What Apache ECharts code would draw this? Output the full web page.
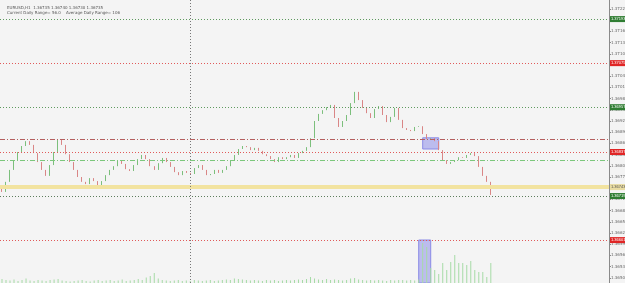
<!DOCTYPE html>
<html>
<head>
<meta charset="utf-8">
<script src="https://cdn.jsdelivr.net/npm/echarts@6/dist/echarts.min.js"></script>
<style>
  html, body { margin: 0; padding: 0; background: #f4f4f4; }
  #chart { width: 625px; height: 283px; }
</style>
</head>
<body>
<div id="chart"></div>
<script>
// EURUSD H1 closes, one per bar
const closes = [
  1.36730, 1.36757, 1.36789, 1.36815, 1.36837, 1.36853, 1.36866, 1.36856, 1.36834, 1.36810,
  1.36789, 1.36773, 1.36802, 1.36837, 1.36869, 1.36856, 1.36831, 1.36810, 1.36789, 1.36770,
  1.36757, 1.36751, 1.36767, 1.36759, 1.36743, 1.36759, 1.36775, 1.36789, 1.36799, 1.36813,
  1.36805, 1.36791, 1.36786, 1.36802, 1.36818, 1.36829, 1.36818, 1.36799, 1.36789, 1.36807,
  1.36821, 1.36810, 1.36797, 1.36783, 1.36775, 1.36786, 1.36781, 1.36778, 1.36794, 1.36802,
  1.36789, 1.36775, 1.36778, 1.36789, 1.36781, 1.36789, 1.36799, 1.36813, 1.36829, 1.36845,
  1.36853, 1.36850, 1.36842, 1.36848, 1.36840, 1.36831, 1.36826, 1.36818, 1.36810, 1.36823,
  1.36818, 1.36823, 1.36829, 1.36821, 1.36834, 1.36840, 1.36850, 1.36874, 1.36920, 1.36939,
  1.36949, 1.36957, 1.36963, 1.36928, 1.36904, 1.36920, 1.36936, 1.36968, 1.36998, 1.36976,
  1.36955, 1.36941, 1.36928, 1.36952, 1.36960, 1.36936, 1.36917, 1.36931, 1.36955, 1.36923,
  1.36901, 1.36896, 1.36893, 1.36904, 1.36906, 1.36885, 1.36872, 1.36874, 1.36866, 1.36842,
  1.36815, 1.36805, 1.36810, 1.36815, 1.36823, 1.36821, 1.36829, 1.36834, 1.36826, 1.36797,
  1.36773, 1.36757, 1.36722
];

// tick volume per bar
const volumes = [
  40, 30, 25, 35, 20, 30, 45, 25, 20, 30,
  25, 20, 30, 35, 40, 25, 20, 15, 20, 25,
  30, 20, 15, 25, 30, 20, 25, 30, 20, 25,
  35, 20, 25, 30, 40, 30, 55, 70, 100, 45,
  30, 25, 20, 25, 30, 20, 25, 20, 30, 25,
  20, 25, 30, 20, 25, 30, 35, 30, 45, 40,
  35, 30, 25, 30, 25, 20, 30, 25, 30, 20,
  25, 30, 25, 30, 35, 30, 40, 60, 45, 35,
  30, 40, 30, 35, 30, 25, 30, 45, 50, 35,
  30, 25, 30, 25, 30, 25, 20, 30, 25, 30,
  30, 25, 30, 25, 35, 400, 360, 150, 130, 90,
  200, 130, 210, 280, 200, 200, 180, 220, 130, 110,
  110, 60, 200
];

const totalBars = 152;
const categories = [];
for (let i = 0; i < totalBars; i++) categories.push(String(i));

// horizontal levels drawn by the indicator
const levelPrices = [1.37193, 1.37075, 1.36957, 1.36872, 1.36837, 1.36815, 1.36743, 1.36719, 1.36601];
const levelKinds  = ['green', 'red', 'green', 'brown', 'red', 'mid', 'yellow', 'gray', 'red'];

// highlighted box (bar index range and price range)
const boxBars = [105, 109];
const boxPrices = [1.36875, 1.36845];
const volBoxBars = [104, 107];
const dayLineBar = 47;

const titleText = 'EURUSD,H1  1.36735 1.36740 1.36730 1.36735\nCurrent Daily Range= 56.0    Average Daily Range= 106';

const kindStyle = {
  green:  { line: { color: '#5f9a5f', type: [1, 2], width: 1 }, box: '#2f7d32' },
  red:    { line: { color: '#e05a5a', type: [1, 2], width: 1 }, box: '#e02626' },
  brown:  { line: { color: '#b45f5f', type: [5, 2, 1, 2], width: 1 }, box: null },
  mid:    { line: { color: '#7cc77c', type: [5, 2, 1, 2], width: 1 }, box: null },
  yellow: { line: { color: '#f2e3a0', type: 'solid', width: 4 }, box: '#e9dca2' },
  gray:   { line: { color: '#5d7d5d', type: [1, 2], width: 1 }, box: '#2f7d32' }
};

const candleData = closes.map((c, i) => {
  const o = i === 0 ? c + 0.00008 : closes[i - 1];
  return [o, c, Math.min(o, c), Math.max(o, c)];
});

const levelLines = levelPrices.map((p, i) => {
  const st = kindStyle[levelKinds[i]];
  return {
    yAxis: p,
    lineStyle: st.line,
    label: st.box ? {
      show: true, position: 'end', distance: 1,
      formatter: p.toFixed(5), fontSize: 4, lineHeight: 4,
      color: levelKinds[i] === 'yellow' ? '#555' : '#fff',
      backgroundColor: st.box, padding: [1, 1, 1, 1]
    } : { show: false }
  };
});

const boxStyle = { color: 'rgba(120,120,230,0.45)', borderColor: '#8a8ae6', borderWidth: 1 };

const chart = echarts.init(document.getElementById('chart'));

chart.setOption({
  backgroundColor: '#f4f4f4',
  animation: false,
  title: {
    text: titleText, left: 2, top: 1,
    textStyle: { fontSize: 4, lineHeight: 4.5, color: '#555', fontWeight: 'normal', fontFamily: 'DejaVu Sans' }
  },
  grid: [
    { left: 0, right: 16, top: -2.2, height: 291.2, outerBoundsMode: 'none', containLabel: false },
    { left: 0, right: 16, bottom: 0, height: 43, outerBoundsMode: 'none' }
  ],
  xAxis: [
    { type: 'category', data: categories, gridIndex: 0, show: false },
    { type: 'category', data: categories, gridIndex: 1, show: false }
  ],
  yAxis: [
    {
      type: 'value', gridIndex: 0, position: 'right',
      min: 1.3647, max: 1.3725, interval: 0.0003,
      splitLine: { show: false },
      axisLine: { show: true, lineStyle: { color: '#8a8a8a' } },
      axisTick: { show: true, length: 2, lineStyle: { color: '#8a8a8a' } },
      axisLabel: { fontSize: 4, margin: 2, color: '#666', fontFamily: 'DejaVu Sans', formatter: v => v.toFixed(5) }
    },
    { type: 'value', gridIndex: 1, min: 0, max: 430, show: false }
  ],
  series: [
    {
      // carrier for the indicator levels
      type: 'line',
      xAxisIndex: 0, yAxisIndex: 0,
      data: [],
      silent: true,
      markLine: {
        symbol: 'none', silent: true, animation: false, precision: 6,
        data: levelLines.concat([{
          xAxis: String(dayLineBar),
          lineStyle: { color: '#777', type: [1, 2], width: 1 },
          label: { show: false }
        }, {
          yAxis: levelPrices[5], lineStyle: { opacity: 0 },
          label: { show: true, position: 'insideStartTop', formatter: 'ADR ' + levelPrices[5].toFixed(5), fontSize: 4, color: '#777', distance: 1 }
        }])
      },
      markArea: {
        silent: true,
        itemStyle: boxStyle,
        data: [[{ xAxis: String(boxBars[0]), yAxis: boxPrices[0] }, { xAxis: String(boxBars[1]), yAxis: boxPrices[1] }]]
      }
    },
    {
      type: 'candlestick',
      xAxisIndex: 0, yAxisIndex: 0,
      data: candleData,
      barWidth: 1,
      itemStyle: { color: '#8fcc8f', color0: '#e29a9a', borderColor: '#7cbf7c', borderColor0: '#d98686', borderWidth: 1 }
    },
    {
      // carrier for the volume highlight
      type: 'line',
      xAxisIndex: 1, yAxisIndex: 1,
      data: [],
      silent: true,
      markArea: {
        silent: true,
        itemStyle: boxStyle,
        data: [[{ xAxis: String(volBoxBars[0]), yAxis: 0 }, { xAxis: String(volBoxBars[1]), yAxis: 430 }]]
      }
    },
    {
      type: 'bar',
      xAxisIndex: 1, yAxisIndex: 1,
      data: volumes,
      barWidth: 1,
      itemStyle: { color: '#a6dba6' }
    }
  ]
});
</script>
</body>
</html>
